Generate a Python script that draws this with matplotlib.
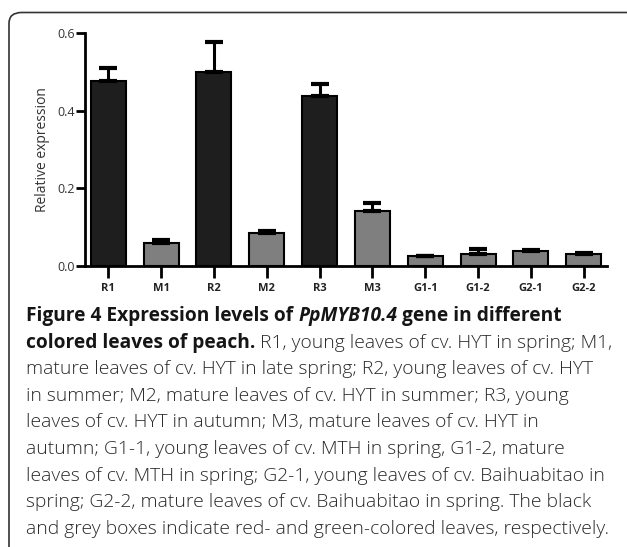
import matplotlib.pyplot as plt
from matplotlib.patches import FancyBboxPatch

# data
samples = ['R1', 'M1', 'R2', 'M2', 'R3', 'M3', 'G1-1', 'G1-2', 'G2-1', 'G2-2']
values = [0.476, 0.058, 0.500, 0.086, 0.439, 0.142, 0.026, 0.030, 0.039, 0.030]
errors = [0.034, 0.009, 0.077, 0.004, 0.030, 0.019, 0.001, 0.015, 0.003, 0.004]
leaf_type = ['red', 'green', 'red', 'green', 'red', 'green', 'green', 'green', 'green', 'green']
colors = {'red': '#1e1e1e', 'green': '#7f7f7f'}

W, H = 627, 547
fig = plt.figure(figsize=(W / 100, H / 100), dpi=100)

# rounded frame around figure + caption (cut by the right and bottom edges)
frame = FancyBboxPatch((9 / W, -0.3), 1.3, 1.3 - 12.5 / H,
                       boxstyle='round,pad=0,rounding_size=0.02',
                       transform=fig.transFigure, facecolor='none',
                       edgecolor='#333333', linewidth=1.2, clip_on=False)
fig.patches.append(frame)

ax = fig.add_axes([85 / W, 1 - 266 / H, (607 - 85) / W, (266 - 33) / H])
x = list(range(len(samples)))
bar_colors = [colors[t] for t in leaf_type]
ax.bar(x, values, width=0.66, color=bar_colors, edgecolor='black', linewidth=1.5,
       yerr=[[0] * len(errors), errors], capsize=6.5,
       error_kw=dict(elinewidth=2.2, capthick=3, ecolor='black'), zorder=2)

ax.set_xlim(-0.44, 9.44)
ax.set_ylim(0, 0.6)
ax.set_yticks([0.0, 0.2, 0.4, 0.6])
ax.set_yticklabels(['0.0', '0.2', '0.4', '0.6'], fontsize=9, color='#333333',
                   family='Open Sans')
ax.set_xticks(x)
ax.set_xticklabels(samples, fontsize=8, fontweight='bold', color='#222222',
                   family='Open Sans')
ax.tick_params(axis='y', length=6.5, width=2, pad=1)
ax.tick_params(axis='x', length=8.5, width=2, pad=4)
for s in ['top', 'right']:
    ax.spines[s].set_visible(False)
for s in ['left', 'bottom']:
    ax.spines[s].set_linewidth(2)
ax.set_ylabel('Relative expression', fontsize=10, color='#333333',
              family='Open Sans', labelpad=5)

# caption
cap_font = 'Open Sans'
lines = [
    [('Figure 4 Expression levels of ', 'bold', 'normal'),
     ('PpMYB10.4', 'bold', 'italic'),
     (' gene in different', 'bold', 'normal')],
    [('colored leaves of peach.', 'bold', 'normal'),
     (' R1, young leaves of cv. HYT in spring; M1,', 'light', 'normal')],
    [('mature leaves of cv. HYT in late spring; R2, young leaves of cv. HYT', 'light', 'normal')],
    [('in summer; M2, mature leaves of cv. HYT in summer; R3, young', 'light', 'normal')],
    [('leaves of cv. HYT in autumn; M3, mature leaves of cv. HYT in', 'light', 'normal')],
    [('autumn; G1-1, young leaves of cv. MTH in spring, G1-2, mature', 'light', 'normal')],
    [('leaves of cv. MTH in spring; G2-1, young leaves of cv. Baihuabitao in', 'light', 'normal')],
    [('spring; G2-2, mature leaves of cv. Baihuabitao in spring. The black', 'light', 'normal')],
    [('and grey boxes indicate red- and green-colored leaves, respectively.', 'light', 'normal')],
]
renderer = fig.canvas.get_renderer()
y0 = 316
for i, parts in enumerate(lines):
    xpos = 26
    ypx = y0 + i * 26.6
    for txt, weight, style in parts:
        size = 13.8 if weight == 'bold' else 13.9
        t = fig.text(xpos / W, 1 - ypx / H, txt, fontsize=size, fontweight=weight,
                     fontstyle=style, family=cap_font, va='center', ha='left',
                     color='#151515' if weight == 'bold' else '#2a2a2a')
        xpos += t.get_window_extent(renderer).width

fig.savefig('out.png', dpi=100)
